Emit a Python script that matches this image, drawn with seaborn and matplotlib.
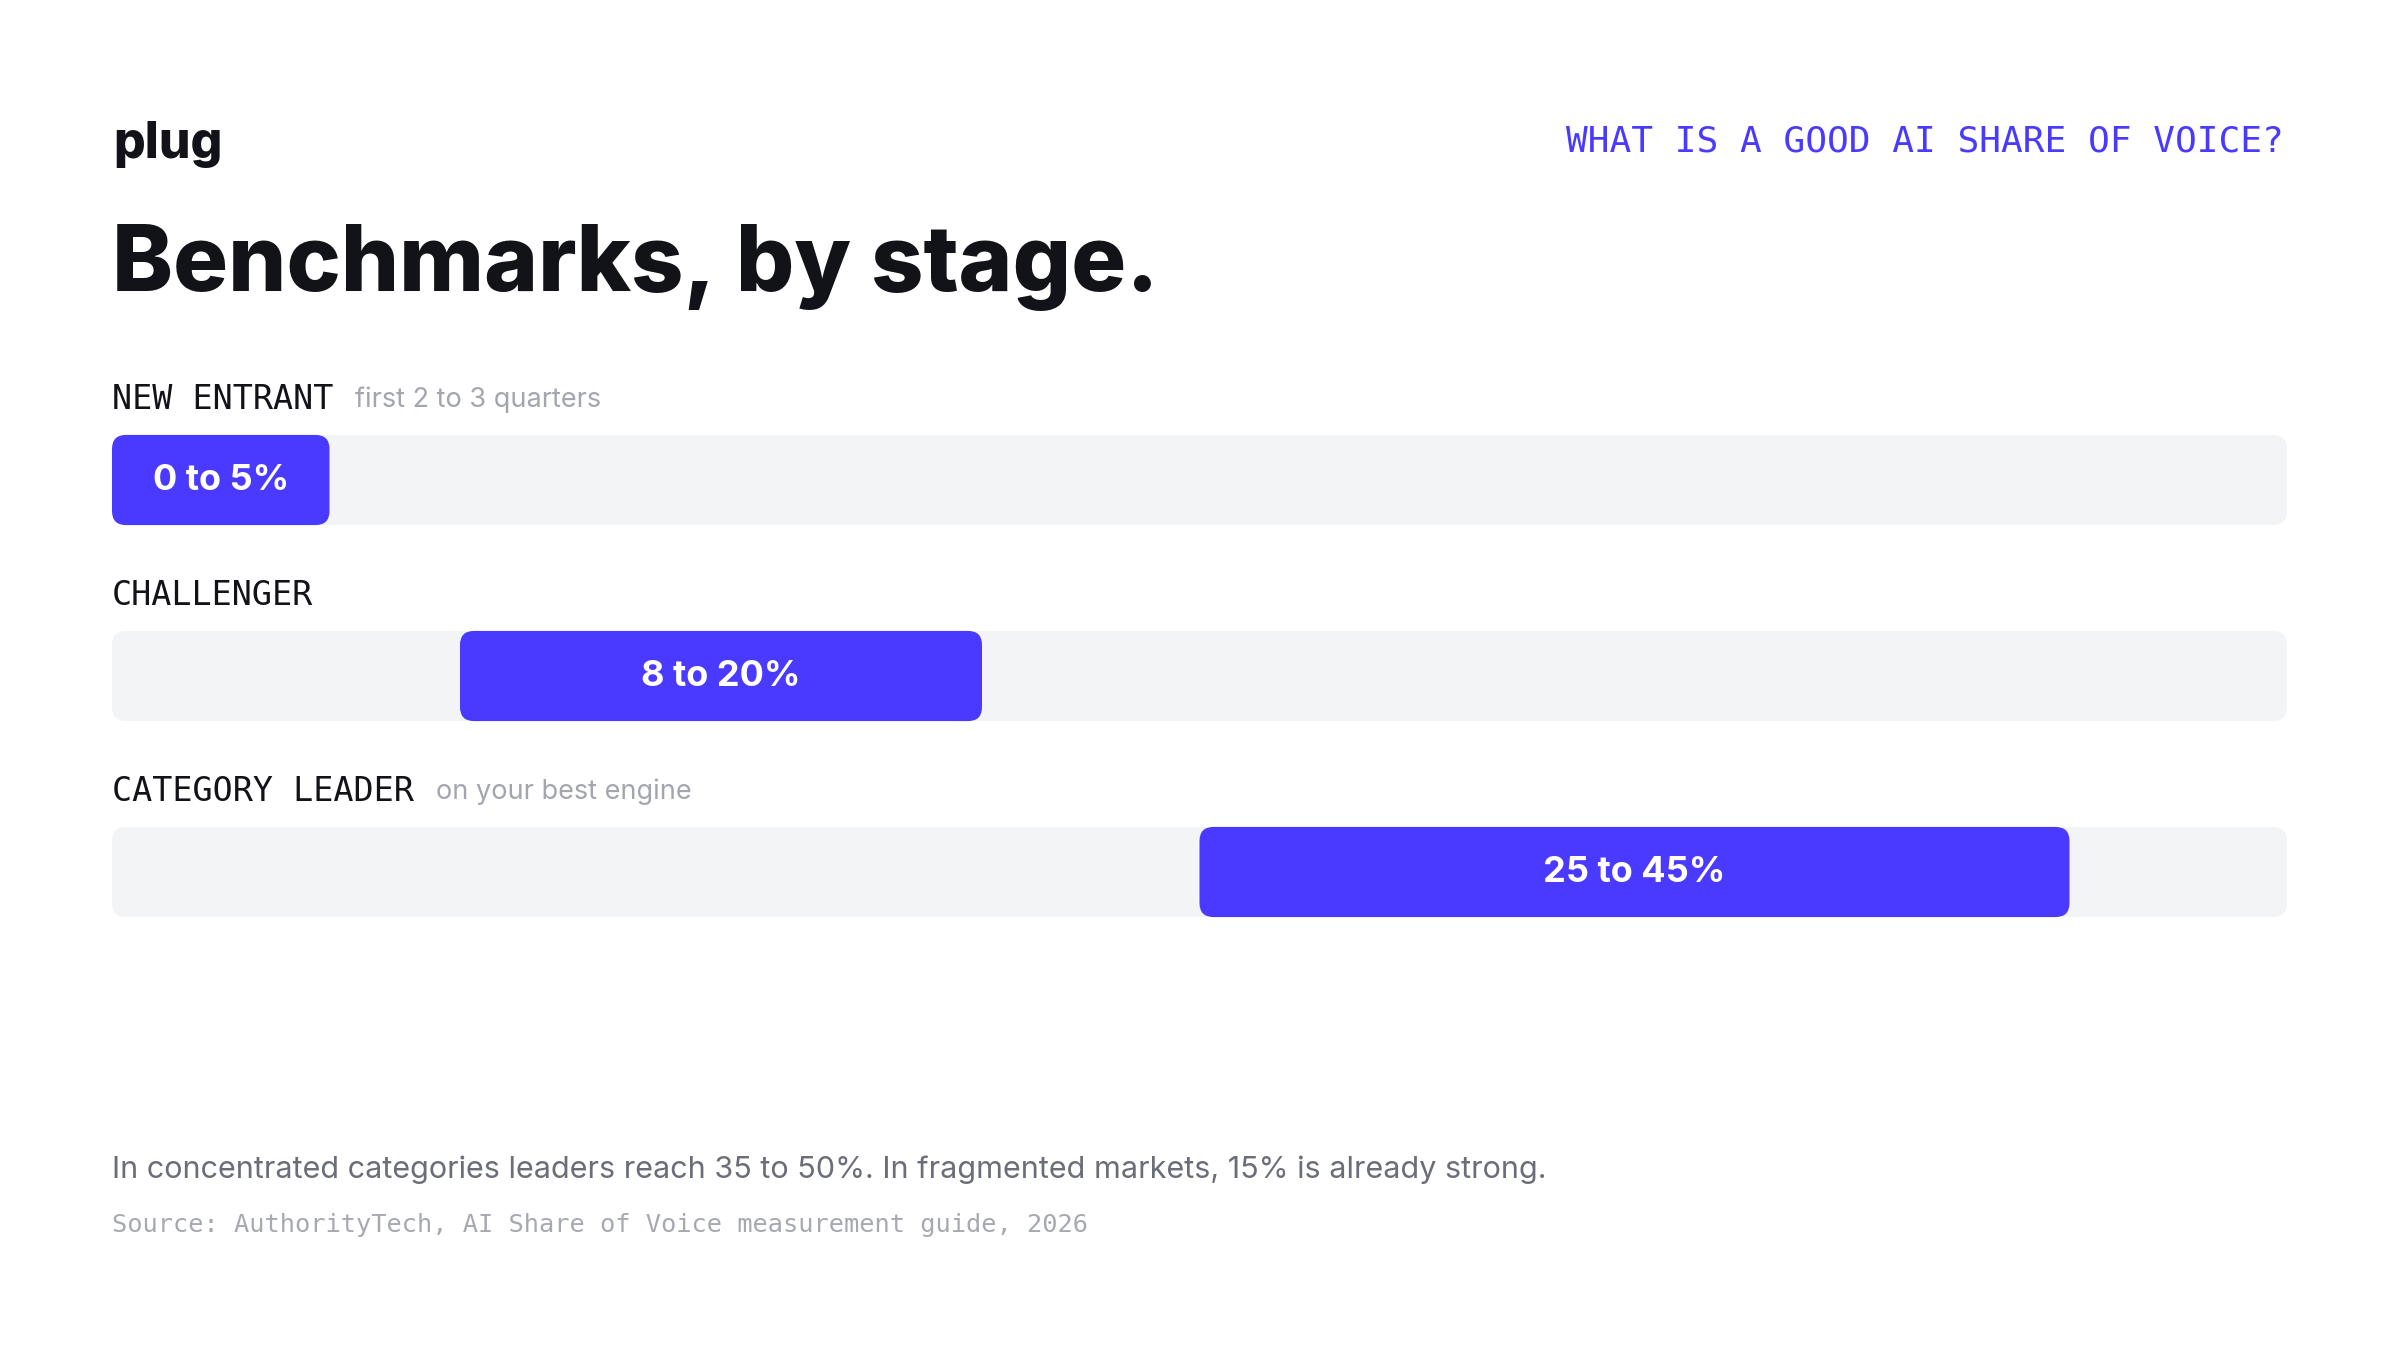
import matplotlib.pyplot as plt
import numpy as np
import pandas as pd
import seaborn as sns
from matplotlib.patches import FancyBboxPatch

# chart data
STAGES = ["NEW ENTRANT", "CHALLENGER", "CATEGORY LEADER"]
NOTES = ["first 2 to 3 quarters", "", "on your best engine"]
LOW = [0, 8, 25]
HIGH = [5, 20, 45]
RANGE_LABELS = ["0 to 5%", "8 to 20%", "25 to 45%"]
AXIS_MAX = 50

TITLE = "Benchmarks, by stage."
KICKER = "WHAT IS A GOOD AI SHARE OF VOICE?"
BRAND = "plug"
FOOTNOTE = "In concentrated categories leaders reach 35 to 50%. In fragmented markets, 15% is already strong."
SOURCE = "Source: AuthorityTech, AI Share of Voice measurement guide, 2026"

BLUE = "#4a3aff"
TRACK = "#f3f4f6"
INK = "#121318"
NOTE_GREY = "#a3a6ae"
FOOT_GREY = "#6b6e78"
SRC_GREY = "#a6a9b0"
MONO = ["DejaVu Sans Mono"]

W, H = 2400, 1350


def fx(px):
    return px / W


def fy(py):
    return 1 - py / H


sns.set_theme(style="white")
plt.rcParams["font.family"] = ["Inter", "DejaVu Sans"]

fig = plt.figure(figsize=(24, 13.5), dpi=100)
fig.patch.set_facecolor("white")

ax = fig.add_axes([fx(112), fy(970), (2287 - 112) / W, 588 / H])

df = pd.DataFrame({
    "stage": STAGES,
    "track": [AXIS_MAX] * len(STAGES),
    "span": np.subtract(HIGH, LOW),
})

sns.barplot(data=df, x="track", y="stage", color=TRACK, saturation=1,
            width=0.46, ax=ax)
n_track = len(ax.patches)
sns.barplot(data=df, x="span", y="stage", color=BLUE, saturation=1,
            width=0.46, ax=ax)
for p, lo in zip(ax.patches[n_track:], LOW):
    p.set_x(lo)

ax.set_xlim(0, AXIS_MAX)
ax.set_ylim(len(STAGES) - 0.5, -0.5)
ax.axis("off")

# rounded corners: swap rectangles for rounded boxes of the same size
bbox = ax.get_window_extent()
xs = AXIS_MAX / bbox.width
ys = len(STAGES) / bbox.height
r_px = 14
for p in list(ax.patches):
    rb = FancyBboxPatch((p.get_x(), p.get_y()), p.get_width(), p.get_height(),
                        boxstyle=f"round,pad=0,rounding_size={r_px * xs}",
                        mutation_aspect=ys / xs, fc=p.get_facecolor(),
                        ec="none", zorder=p.get_zorder())
    p.remove()
    ax.add_patch(rb)

for i, (lo, hi, lab) in enumerate(zip(LOW, HIGH, RANGE_LABELS)):
    ax.text((lo + hi) / 2, i, lab, ha="center", va="center", color="white",
            fontsize=26, fontweight="bold")

labels = []
for i, stage in enumerate(STAGES):
    t = ax.text(0, i - 0.41, stage, ha="left", va="center", color=INK,
                fontsize=24, family=MONO)
    labels.append(t)

fig.canvas.draw()
renderer = fig.canvas.get_renderer()
for i, (t, note) in enumerate(zip(labels, NOTES)):
    if not note:
        continue
    ext = t.get_window_extent(renderer)
    x_end = ax.transData.inverted().transform((ext.x1 + 22, 0))[0]
    ax.text(x_end, i - 0.41, note, ha="left", va="center", color=NOTE_GREY,
            fontsize=19.5)

# header
fig.text(fx(113), fy(158), BRAND, ha="left", va="baseline", color=INK,
         fontsize=36, fontweight="heavy")
fig.text(fx(2284), fy(141), KICKER, ha="right", va="center", color=BLUE,
         fontsize=26, family=MONO)
fig.text(fx(112), fy(291), TITLE, ha="left", va="baseline", color=INK,
         fontsize=66, fontweight="heavy")

# footer
fig.text(fx(112), fy(1170), FOOTNOTE, ha="left", va="center", color=FOOT_GREY,
         fontsize=22)
fig.text(fx(112), fy(1225), SOURCE, ha="left", va="center", color=SRC_GREY,
         fontsize=18.3, family=MONO)

fig.savefig("out.png", dpi=100, facecolor="white")
